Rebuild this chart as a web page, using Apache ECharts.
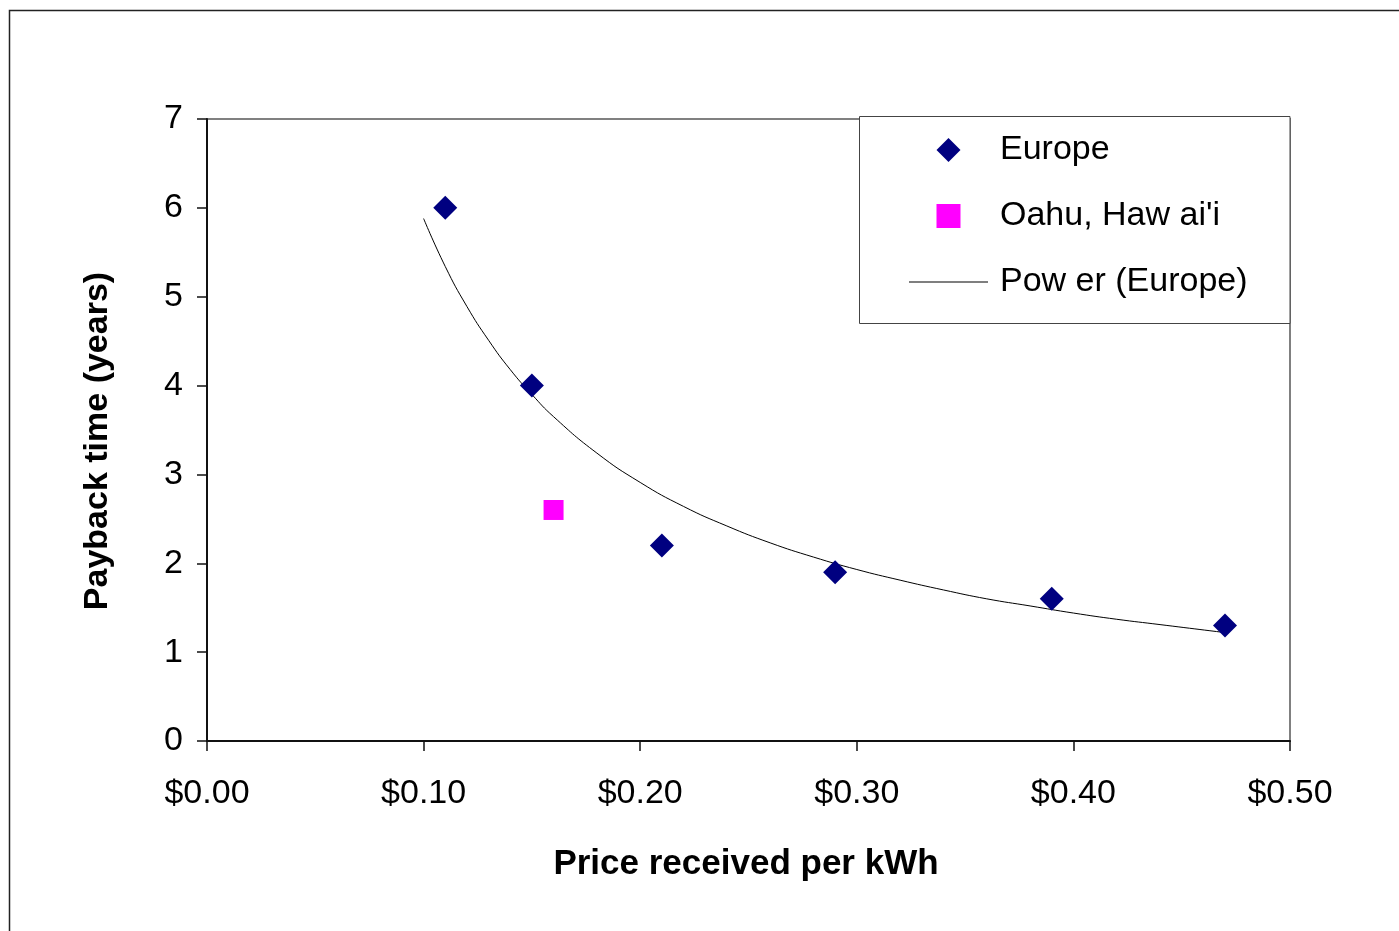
<!DOCTYPE html>
<html><head><meta charset="utf-8">
<script src="https://cdn.jsdelivr.net/npm/echarts@6/dist/echarts.min.js"></script>
<style>html,body{margin:0;padding:0;background:#fff}#c{width:1399px;height:931px}</style>
</head><body><div id="c"></div>
<script>
// Europe observations
const europePrice = [0.11, 0.15, 0.21, 0.29, 0.39, 0.47];
const europePayback = [6.0, 4.0, 2.2, 1.9, 1.6, 1.3];
// Oahu, Hawai'i observation
const oahuPrice = [0.16];
const oahuPayback = [2.6];
// Power trendline (Europe)
const trendPrice = [0.10, 0.11, 0.12, 0.13, 0.14, 0.15, 0.16, 0.18, 0.20, 0.22, 0.24, 0.26, 0.28, 0.30, 0.32, 0.34, 0.36, 0.38, 0.40, 0.42, 0.44, 0.47];
const trendPayback = [5.88, 5.34, 4.89, 4.51, 4.18, 3.90, 3.65, 3.24, 2.91, 2.64, 2.42, 2.23, 2.07, 1.93, 1.81, 1.70, 1.60, 1.52, 1.44, 1.37, 1.31, 1.22];
// tick labels
const xTickLabels = ['$0.00', '$0.10', '$0.20', '$0.30', '$0.40', '$0.50'];
const yTickLabels = ['0', '1', '2', '3', '4', '5', '6', '7'];

const seriesNames = ['Europe', "Oahu, Haw ai'i", 'Pow er (Europe)'];
const FONT = 'Liberation Sans, Arial, sans-serif';

const zip = (a, b) => a.map((v, i) => [v, b[i]]);

const chart = echarts.init(document.getElementById('c'), null, {renderer: 'canvas'});
chart.setOption({
  animation: false,
  backgroundColor: '#fff',
  textStyle: {fontFamily: FONT},
  grid: {left: 207, right: 109, top: 119, bottom: 190, show: true, borderColor: '#808080', borderWidth: 2, z: 0},
  graphic: [
    {type: 'rect', shape: {x: 9.5, y: 10.5, width: 1400, height: 940}, style: {fill: 'none', stroke: '#222', lineWidth: 1.5}, z: 0, silent: true},
    {type: 'rect', shape: {x: 859.5, y: 116.5, width: 430.5, height: 207}, style: {fill: '#fff', stroke: '#444', lineWidth: 1}, z: 3, silent: true}
  ],
  legend: {
    orient: 'vertical', left: 909, top: 133, padding: 0, itemGap: 32,
    itemWidth: 79, itemHeight: 24, symbolKeepAspect: true, selectedMode: false, z: 5,
    textStyle: {fontSize: 34, fontFamily: FONT, color: '#000', padding: [0, 0, 0, 7]},
    data: [
      {name: seriesNames[0], icon: 'path://M0,-1L1,0L0,1L-1,0Z'},
      {name: seriesNames[1], icon: 'path://M0,0H1V1H0Z'},
      {name: seriesNames[2], icon: 'path://M0,0H80V1H0Z'}
    ]
  },
  xAxis: {
    type: 'value', min: 0, max: 0.5, interval: 0.1, z: 1,
    name: 'Price received per kWh', nameLocation: 'middle', nameGap: 106,
    nameTextStyle: {fontSize: 35, fontWeight: 'bold', color: '#000', fontFamily: FONT, padding: [0, 5, 0, 0]},
    axisLine: {lineStyle: {color: '#111', width: 2}},
    axisTick: {length: 10, lineStyle: {color: '#111', width: 1.5}},
    axisLabel: {fontSize: 34, color: '#000', margin: 36, fontFamily: FONT,
      formatter: v => xTickLabels[Math.round(v * 10)]},
    splitLine: {show: false}
  },
  yAxis: {
    type: 'value', min: 0, max: 7, interval: 1, z: 1,
    name: 'Payback time (years)', nameLocation: 'middle', nameGap: 92,
    nameTextStyle: {fontSize: 34, fontWeight: 'bold', color: '#000', fontFamily: FONT, padding: [0, 22, 0, 0]},
    axisLine: {show: true, lineStyle: {color: '#111', width: 2}},
    axisTick: {show: true, length: 10, lineStyle: {color: '#111', width: 1.5}},
    axisLabel: {fontSize: 34, color: '#000', margin: 24, fontFamily: FONT,
      formatter: v => yTickLabels[Math.round(v)]},
    splitLine: {show: false}
  },
  series: [
    {name: seriesNames[0], type: 'scatter', symbol: 'diamond', symbolSize: 24,
      itemStyle: {color: '#000080', opacity: 1}, data: zip(europePrice, europePayback), z: 3},
    {name: seriesNames[1], type: 'scatter', symbol: 'rect', symbolSize: 20,
      itemStyle: {color: '#FF00FF', opacity: 1}, data: zip(oahuPrice, oahuPayback), z: 3},
    {name: seriesNames[2], type: 'line', smooth: true, symbol: 'none', showSymbol: false,
      lineStyle: {color: '#000', width: 1}, itemStyle: {color: '#000'},
      data: zip(trendPrice, trendPayback), z: 2}
  ]
});
</script></body></html>
